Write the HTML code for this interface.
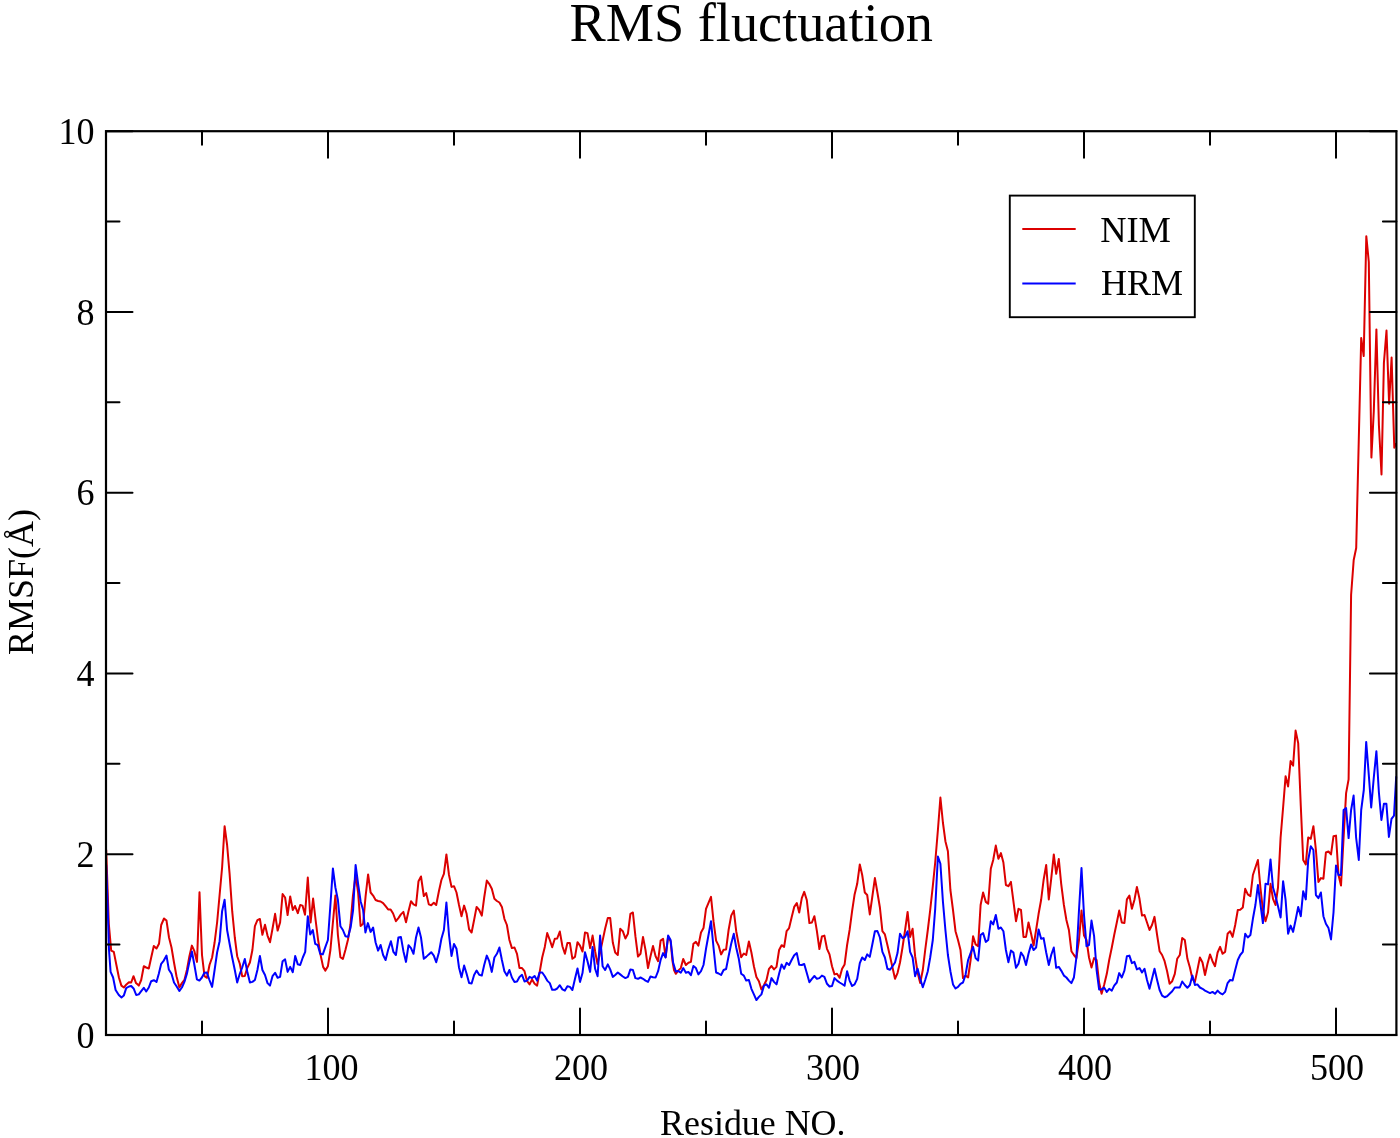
<!DOCTYPE html>
<html><head><meta charset="utf-8"><title>RMS fluctuation</title>
<style>
html,body{margin:0;padding:0;background:#fff;}
svg{display:block;}
text{font-family:"Liberation Serif","DejaVu Serif",serif;fill:#000;}
</style></head><body>
<svg width="1400" height="1138" viewBox="0 0 1400 1138">
<rect width="1400" height="1138" fill="#fff"/>
<text x="751.2" y="41.3" font-size="54.3" text-anchor="middle">RMS fluctuation</text>
<polyline points="106.2,850.0 108.8,923.8 111.2,950.6 113.8,951.9 116.4,965.0 118.9,977.5 121.4,985.6 123.9,987.5 126.4,984.4 128.9,982.2 131.2,982.5 133.5,976.2 136.0,983.1 138.8,985.6 141.2,980.0 143.8,966.2 146.2,967.5 148.8,968.5 151.2,957.5 153.8,946.0 156.5,948.5 159.0,943.8 161.2,925.0 164.0,918.5 166.5,920.6 169.0,937.5 171.5,947.5 174.0,962.5 176.5,976.2 179.4,987.5 181.9,983.1 184.4,980.0 186.9,970.0 189.4,956.2 191.9,945.6 194.4,951.2 197.0,961.9 199.5,892.2 202.0,955.0 204.5,976.2 207.0,977.8 209.5,965.0 212.1,957.5 214.6,942.5 217.1,922.5 219.6,895.0 222.1,867.5 224.6,826.2 227.1,845.0 229.6,873.8 232.2,911.2 234.8,937.5 237.2,956.2 239.8,963.8 242.2,976.2 244.8,976.0 247.2,968.1 249.9,962.5 252.4,950.0 254.9,926.2 257.4,920.2 259.9,919.0 262.4,934.8 265.0,924.8 267.5,935.6 270.0,942.2 272.5,928.8 275.1,913.8 277.6,930.6 280.1,922.5 282.6,894.0 285.1,897.5 287.6,915.0 290.2,896.5 292.8,910.0 295.0,906.0 297.8,913.1 300.2,905.0 302.5,905.6 305.0,914.8 307.8,877.5 310.6,922.5 313.1,898.5 315.6,920.0 318.1,940.0 320.6,955.0 323.1,966.9 325.4,970.6 327.9,966.2 330.4,950.0 332.9,922.5 335.4,895.6 337.9,935.0 340.4,957.2 342.9,959.0 345.4,950.0 347.9,940.0 350.4,925.0 352.9,896.2 355.6,875.0 358.1,892.5 360.6,926.0 363.1,923.8 365.6,896.2 368.1,874.4 370.6,892.5 373.1,895.6 375.6,900.0 378.1,901.0 380.6,901.5 383.1,903.1 385.6,906.2 388.1,909.4 390.6,909.4 393.1,913.5 395.9,921.2 398.4,918.1 400.9,914.4 403.4,911.9 406.0,922.2 408.5,911.2 411.0,901.2 413.5,904.4 416.0,905.6 418.5,881.2 421.0,876.5 423.8,896.0 426.2,893.1 428.8,904.4 431.2,905.2 433.8,902.8 436.2,905.0 438.9,891.2 441.4,880.0 443.9,873.8 446.4,854.4 449.0,875.0 451.5,886.9 454.0,886.2 456.5,892.5 459.0,905.0 461.5,916.2 464.1,905.6 466.6,913.8 469.1,929.4 471.6,932.5 474.1,920.0 476.6,906.9 479.2,910.0 481.8,915.6 484.2,897.5 486.8,880.6 489.2,883.8 491.8,888.8 494.4,898.8 496.9,901.0 499.4,902.5 501.9,906.9 504.4,918.8 506.9,925.0 509.4,940.0 511.9,948.1 514.5,947.5 517.0,953.8 519.5,968.1 522.0,968.1 524.5,971.2 527.1,981.2 529.6,984.4 532.1,979.4 534.6,983.8 537.1,985.6 539.6,972.5 542.2,957.5 544.8,946.9 547.2,933.1 549.8,940.0 552.2,947.2 554.8,938.8 557.2,938.5 559.8,931.5 562.4,946.2 564.9,953.8 567.4,943.1 569.9,943.1 572.4,958.8 575.0,956.9 577.5,942.2 580.0,945.6 582.5,951.5 585.0,932.5 587.5,933.1 590.1,948.1 592.6,935.6 595.1,951.2 597.5,964.0 600.1,952.5 602.6,940.6 605.1,928.8 607.8,918.1 610.2,918.1 612.8,942.5 615.2,952.5 617.8,955.0 620.2,928.8 622.8,931.2 625.4,938.5 627.9,933.8 630.4,913.8 632.9,912.5 635.4,936.2 638.0,956.5 640.5,953.8 643.0,936.9 645.5,950.0 648.0,968.1 650.5,956.2 653.0,946.0 655.6,956.2 658.1,961.2 660.6,940.6 663.1,938.8 665.6,957.2 668.1,936.9 670.6,941.2 672.5,961.2 674.0,970.0 675.8,973.8 678.2,970.6 680.8,968.1 683.2,959.0 685.9,965.0 688.4,962.8 690.9,961.9 693.4,943.8 695.9,941.9 698.4,945.6 701.0,932.5 703.5,928.1 706.0,908.8 708.5,902.8 711.0,896.9 713.5,921.2 716.1,940.6 718.6,945.6 721.1,954.4 723.6,949.8 726.1,949.4 728.6,930.0 731.2,915.6 733.8,910.6 736.2,931.2 738.8,945.0 741.2,957.2 743.8,953.5 746.2,955.0 748.9,941.5 751.4,952.5 753.9,966.2 756.4,976.9 758.9,981.2 761.4,989.4 764.0,985.0 766.5,980.0 769.0,968.8 771.5,966.0 774.0,969.4 776.5,966.9 779.1,950.0 781.6,945.2 784.1,946.9 786.6,931.2 789.1,928.1 791.6,917.5 794.2,906.9 796.8,903.1 799.2,912.5 801.8,898.1 804.2,891.9 806.8,900.0 809.4,923.1 811.9,922.5 814.4,916.2 816.9,931.2 819.4,949.0 821.9,936.5 824.4,935.6 827.0,948.8 829.5,954.4 832.0,966.2 834.5,974.4 837.0,973.8 839.6,977.8 842.1,968.8 844.6,964.4 847.1,945.0 849.6,930.0 852.1,911.2 854.6,894.4 857.2,883.8 859.8,864.4 862.2,875.0 864.8,892.5 867.2,895.0 869.8,914.4 872.2,897.5 874.9,878.1 877.4,892.5 879.9,907.5 882.4,931.2 884.9,934.4 887.4,945.0 890.0,956.2 892.5,967.5 895.0,978.8 897.5,973.1 900.0,962.5 902.5,947.5 905.1,930.0 907.6,911.9 910.1,936.9 912.6,928.8 915.1,956.2 917.6,972.5 920.2,983.1 922.8,970.0 925.2,950.0 927.8,930.0 930.2,910.0 932.8,886.2 935.2,862.5 937.9,830.0 940.4,797.5 942.9,822.5 945.4,841.2 947.9,851.2 950.4,890.0 953.0,910.0 955.5,931.2 958.0,940.0 960.5,950.0 963.0,978.1 965.5,975.6 968.1,977.5 970.6,960.0 973.1,936.2 975.6,944.4 978.1,946.2 980.6,905.0 983.1,892.5 985.8,901.9 988.2,903.8 990.8,868.8 993.2,860.0 995.8,845.6 998.4,858.8 1000.9,853.1 1003.4,862.5 1005.9,885.0 1008.4,886.2 1010.9,881.9 1013.4,901.2 1016.0,921.2 1018.5,908.8 1021.0,910.0 1023.5,936.9 1026.0,936.9 1028.5,922.5 1031.1,933.8 1033.6,945.6 1036.1,930.0 1038.6,913.8 1041.1,900.0 1043.6,880.0 1046.2,865.0 1048.8,899.4 1051.2,878.8 1053.8,854.4 1056.2,873.8 1058.8,859.0 1061.2,883.8 1063.9,905.0 1066.4,920.0 1068.9,930.0 1071.4,951.2 1073.9,955.0 1076.4,958.1 1079.0,940.0 1081.5,910.6 1084.0,935.6 1086.5,940.0 1089.0,957.5 1091.5,967.5 1094.1,958.1 1096.6,960.0 1099.1,982.5 1101.6,993.8 1104.1,985.0 1106.8,973.8 1109.2,960.0 1111.8,947.5 1114.2,935.0 1116.8,922.5 1119.2,910.6 1121.8,922.5 1124.4,923.1 1126.9,899.4 1129.4,895.6 1131.9,908.8 1134.4,900.0 1136.9,886.9 1139.5,898.8 1142.0,915.6 1144.5,915.0 1147.0,922.5 1149.5,930.0 1152.0,925.0 1154.5,916.9 1157.1,935.0 1159.6,951.2 1162.1,955.0 1164.6,961.2 1167.1,971.2 1169.6,983.8 1172.2,981.2 1174.8,973.8 1177.2,958.8 1179.8,955.0 1182.2,938.1 1184.8,940.0 1187.4,958.8 1189.9,967.5 1192.4,978.8 1194.9,981.9 1197.4,970.0 1199.9,957.5 1202.5,962.5 1205.0,975.0 1207.5,963.8 1210.0,954.4 1212.5,961.2 1215.0,966.2 1217.6,952.5 1220.1,946.9 1222.6,953.8 1225.1,951.9 1227.6,933.8 1230.1,931.2 1232.6,936.9 1235.2,925.0 1237.8,910.0 1240.2,909.8 1242.8,907.5 1245.2,888.8 1247.8,894.4 1250.4,896.2 1252.9,875.0 1255.4,867.5 1257.9,860.0 1260.4,887.5 1262.9,910.0 1265.5,921.2 1268.0,912.5 1270.5,883.8 1273.0,898.8 1275.5,905.0 1278.0,887.5 1280.6,837.5 1283.1,807.5 1285.6,776.2 1288.1,786.5 1290.6,761.0 1293.1,765.6 1295.6,730.6 1298.2,743.1 1300.8,806.2 1303.2,860.0 1305.8,864.4 1308.2,837.5 1310.8,838.8 1313.4,826.2 1315.9,850.0 1318.4,881.9 1320.9,878.1 1323.4,878.8 1325.9,852.5 1328.5,851.5 1331.0,854.4 1333.5,836.2 1336.0,835.6 1338.5,875.0 1341.0,885.6 1343.6,837.5 1346.1,793.1 1348.6,779.4 1351.1,595.0 1353.7,560.0 1356.2,548.0 1358.7,443.0 1361.2,338.0 1363.7,356.0 1366.3,236.2 1368.8,262.0 1371.4,457.6 1373.8,411.0 1376.4,329.4 1378.9,425.0 1381.5,474.5 1383.9,363.0 1386.5,330.6 1389.1,403.7 1391.6,357.5 1394.3,447.7 1395.8,444.0" fill="none" stroke="#dc0000" stroke-width="2" stroke-linejoin="round" stroke-linecap="round"/>
<polyline points="106.2,865.0 108.1,920.0 109.0,950.0 110.6,971.9 113.1,977.5 115.6,990.0 118.8,995.0 121.5,997.5 123.8,995.6 126.2,988.1 129.0,986.5 131.2,986.0 133.8,988.8 136.2,995.0 138.8,994.4 141.2,991.2 143.8,987.8 146.2,991.5 148.8,987.5 151.2,981.2 153.8,980.2 156.5,981.9 158.8,973.8 161.2,963.8 163.8,960.6 166.5,955.6 168.8,969.4 171.5,973.8 174.0,982.5 176.5,986.2 179.4,991.0 181.9,987.5 184.4,981.9 186.9,973.8 189.4,961.9 191.9,951.5 194.4,965.0 196.9,979.4 199.4,980.6 201.9,977.5 204.4,972.8 206.9,972.5 209.4,980.0 212.1,986.9 214.6,970.0 217.1,952.5 219.6,941.2 222.1,911.2 224.6,899.8 227.1,930.0 229.6,943.8 232.2,957.5 234.8,970.0 237.2,982.5 239.8,973.8 242.2,967.5 244.8,959.0 247.2,971.2 249.9,982.5 252.4,981.9 254.9,980.0 257.4,970.0 259.9,956.0 262.4,970.0 265.0,975.0 267.5,983.1 270.0,985.6 272.5,976.2 275.1,972.8 277.6,977.8 280.1,976.9 282.6,961.2 285.1,959.4 287.6,971.9 290.2,966.9 292.8,972.2 295.2,956.0 297.8,964.4 300.2,965.0 302.8,957.5 305.2,951.9 307.8,916.2 310.2,934.4 312.8,930.0 315.2,943.8 317.8,945.2 320.2,953.8 322.8,954.4 325.4,946.9 327.9,940.0 330.4,905.0 332.9,868.5 335.4,887.5 337.9,900.0 340.4,926.2 342.9,930.0 345.4,936.2 348.1,936.9 350.6,927.5 353.1,910.0 355.6,865.0 358.1,883.8 360.6,901.2 363.1,910.0 365.4,932.5 367.9,923.1 370.6,931.9 373.1,927.5 375.6,942.5 378.1,950.6 380.6,945.0 383.1,955.0 385.6,960.0 388.1,950.0 390.9,941.2 393.4,951.9 395.9,955.0 398.4,937.5 400.9,936.9 403.4,951.2 406.0,961.9 408.5,945.2 411.0,948.1 413.5,953.8 416.0,937.5 418.5,927.5 421.0,937.5 423.8,958.8 426.2,956.9 428.8,954.4 431.2,952.2 433.8,955.6 436.2,962.2 438.9,952.5 441.4,938.8 443.9,930.0 446.4,902.5 449.0,935.0 451.5,956.0 454.0,944.0 456.5,948.8 459.0,967.5 461.5,977.2 464.1,965.6 466.6,973.8 469.1,983.1 471.6,983.5 474.1,975.0 476.6,970.6 479.2,974.8 481.8,975.6 484.2,965.0 486.8,955.6 489.2,961.2 491.8,971.9 494.4,957.5 496.9,953.8 499.4,947.5 501.9,960.0 504.4,971.2 506.9,975.6 509.4,970.0 511.9,977.5 514.5,981.9 517.0,981.5 519.5,976.9 522.0,974.8 524.5,981.5 527.1,980.6 529.6,976.9 532.1,978.1 534.6,976.0 537.1,980.6 539.6,972.5 542.2,972.5 544.8,976.2 547.2,980.6 549.8,983.1 552.2,989.8 554.8,989.8 557.2,988.5 559.8,985.2 562.4,989.4 564.9,990.6 567.4,986.2 569.9,986.9 572.4,990.0 575.0,978.8 577.5,968.5 580.0,981.9 582.5,973.1 585.0,952.2 587.5,961.2 590.1,971.9 592.6,946.9 595.1,968.8 597.6,976.2 600.1,935.6 602.6,966.2 605.1,970.0 607.8,964.4 610.2,969.4 612.8,976.9 615.2,975.0 617.8,972.5 620.2,974.4 622.8,976.5 625.4,978.1 627.9,976.9 630.4,969.4 632.9,970.0 635.4,978.1 638.0,978.8 640.5,977.5 643.0,978.8 645.5,980.6 648.0,981.9 650.5,976.5 653.0,977.2 655.6,977.5 658.1,971.2 660.6,960.0 663.1,953.1 665.6,957.5 668.1,935.6 670.6,940.0 673.1,962.5 675.8,971.5 678.2,971.0 680.8,972.8 683.2,968.1 685.9,972.8 688.4,971.9 690.9,975.2 693.4,966.0 695.9,968.1 698.4,974.4 701.0,971.2 703.5,965.0 706.0,948.8 708.5,935.0 711.0,921.2 713.5,947.5 716.1,972.5 718.6,973.5 721.1,975.0 723.6,970.0 726.1,969.0 728.6,956.2 731.2,943.8 733.8,933.8 736.2,947.5 738.8,958.8 741.2,973.8 743.8,975.6 746.2,980.6 748.9,980.0 751.4,988.8 753.9,994.4 756.4,1000.0 758.9,996.9 761.4,994.4 764.0,985.6 766.5,984.4 769.0,987.8 771.5,978.1 774.0,981.9 776.5,984.4 779.1,973.8 781.6,964.4 784.1,968.8 786.6,962.8 789.1,965.0 791.6,960.0 794.2,955.2 796.8,953.1 799.2,964.8 801.8,965.0 804.2,964.0 806.8,973.1 809.4,982.2 811.9,978.8 814.4,976.0 816.9,978.8 819.4,978.1 821.9,975.6 824.4,976.9 827.0,983.8 829.5,986.5 832.0,986.0 834.5,978.1 837.0,980.6 839.6,982.5 842.1,984.0 844.6,985.6 847.1,971.2 849.6,980.6 852.1,986.0 854.6,984.4 857.2,978.8 859.8,963.1 862.2,957.5 864.8,960.0 867.2,954.4 869.8,956.9 872.2,945.0 874.9,931.2 877.4,931.0 879.9,937.5 882.4,951.9 884.9,957.5 887.4,968.8 890.0,969.8 892.5,966.2 895.0,962.5 897.5,953.1 900.0,933.8 902.5,938.1 905.1,936.9 907.6,931.2 910.1,951.9 912.6,957.5 915.1,976.2 917.6,968.8 920.2,978.8 922.8,987.2 925.2,980.0 927.8,971.2 930.2,957.5 932.8,940.0 935.2,908.8 937.9,856.5 940.4,863.8 942.9,901.2 945.4,930.0 947.9,955.0 950.4,971.2 953.0,984.4 955.5,988.5 958.0,986.9 960.5,983.8 963.0,982.5 965.5,975.0 968.1,960.0 970.6,953.1 973.1,946.9 975.6,958.1 978.1,960.6 980.6,935.0 983.1,933.1 985.8,941.9 988.2,940.0 990.8,921.2 993.2,924.4 995.8,915.0 998.4,928.8 1000.9,927.5 1003.4,931.2 1005.9,950.0 1008.4,962.2 1010.9,950.6 1013.4,952.5 1016.0,967.8 1018.5,963.8 1021.0,952.5 1023.5,956.2 1026.0,965.0 1028.5,953.8 1031.1,944.4 1033.6,950.0 1036.1,947.5 1038.6,929.4 1041.1,938.8 1043.6,938.1 1046.2,952.5 1048.8,965.0 1051.2,955.0 1053.8,947.5 1056.2,967.8 1058.8,966.9 1061.2,970.6 1063.9,975.6 1066.4,977.5 1068.9,980.6 1071.4,983.1 1073.9,977.5 1076.4,957.5 1079.0,910.0 1081.5,868.1 1084.0,915.0 1086.5,946.2 1089.0,945.0 1091.5,920.6 1094.1,936.2 1096.6,970.0 1099.1,989.4 1101.6,989.4 1104.1,987.5 1106.8,991.9 1109.2,988.8 1111.8,990.6 1114.2,985.6 1116.8,982.5 1119.2,973.1 1121.8,977.5 1124.4,970.6 1126.9,956.2 1129.4,955.6 1131.9,963.1 1134.4,961.9 1136.9,969.4 1139.5,968.1 1142.0,972.5 1144.5,968.8 1147.0,980.0 1149.5,988.8 1152.0,978.8 1154.5,968.8 1157.1,980.0 1159.6,990.0 1162.1,995.6 1164.6,997.2 1167.1,996.2 1169.6,993.8 1172.2,991.2 1174.8,987.5 1177.2,987.5 1179.8,987.5 1182.2,981.5 1184.8,985.0 1187.4,987.8 1189.9,985.0 1192.4,975.6 1194.9,985.0 1197.4,984.4 1199.9,987.5 1202.5,988.8 1205.0,990.6 1207.5,991.9 1210.0,993.1 1212.5,991.9 1215.0,993.8 1217.6,990.6 1220.1,993.1 1222.6,994.4 1225.1,991.9 1227.6,983.1 1230.1,980.0 1232.6,980.6 1235.2,970.0 1237.8,960.0 1240.2,955.0 1242.8,951.9 1245.2,933.8 1247.8,937.5 1250.4,935.0 1252.9,918.8 1255.4,905.0 1257.9,885.0 1260.4,903.8 1262.9,923.1 1265.5,883.8 1268.0,884.4 1270.5,859.4 1273.0,887.5 1275.5,896.2 1278.0,906.2 1280.6,917.5 1283.1,881.2 1285.6,900.0 1288.1,933.8 1290.6,925.6 1293.1,931.9 1295.6,920.0 1298.2,906.9 1300.8,916.2 1303.2,891.2 1305.8,899.4 1308.2,860.0 1310.8,846.2 1313.4,850.0 1315.9,895.0 1318.4,898.1 1320.9,892.5 1323.4,916.2 1325.9,923.8 1328.5,928.1 1331.0,939.4 1333.5,912.5 1336.0,865.6 1338.5,875.0 1341.0,875.0 1343.6,810.0 1346.1,808.1 1348.6,838.1 1351.1,810.0 1353.6,795.6 1356.1,837.5 1358.8,860.0 1361.2,810.0 1363.8,790.0 1366.2,741.9 1368.8,775.0 1371.2,807.5 1373.8,777.5 1376.4,751.2 1378.9,792.5 1381.4,820.0 1383.9,803.8 1386.4,803.8 1388.9,836.9 1391.5,818.8 1394.0,815.6 1396.2,776.9" fill="none" stroke="#0000ff" stroke-width="2" stroke-linejoin="round" stroke-linecap="round"/>
<rect x="106" y="131.2" width="1290.4" height="903.8" fill="none" stroke="#000" stroke-width="2.2"/>
<path d="M202.00 1035.0v-13.5M202.00 131.2v13.5M328.00 1035.0v-26.5M328.00 131.2v26.5M454.00 1035.0v-13.5M454.00 131.2v13.5M580.00 1035.0v-26.5M580.00 131.2v26.5M706.00 1035.0v-13.5M706.00 131.2v13.5M832.00 1035.0v-26.5M832.00 131.2v26.5M958.00 1035.0v-13.5M958.00 131.2v13.5M1084.00 1035.0v-26.5M1084.00 131.2v26.5M1210.00 1035.0v-13.5M1210.00 131.2v13.5M1336.00 1035.0v-26.5M1336.00 131.2v26.5M106 1035.00h26.5M1396.4 1035.00h-26.5M106 944.62h13.5M1396.4 944.62h-13.5M106 854.24h26.5M1396.4 854.24h-26.5M106 763.86h13.5M1396.4 763.86h-13.5M106 673.48h26.5M1396.4 673.48h-26.5M106 583.10h13.5M1396.4 583.10h-13.5M106 492.72h26.5M1396.4 492.72h-26.5M106 402.34h13.5M1396.4 402.34h-13.5M106 311.96h26.5M1396.4 311.96h-26.5M106 221.58h13.5M1396.4 221.58h-13.5M106 131.20h26.5M1396.4 131.20h-26.5" stroke="#000" stroke-width="2" stroke-linecap="round" fill="none"/>
<text transform="translate(331.5,1079.9) scale(0.97,1)" font-size="37.2" text-anchor="middle">100</text>
<text transform="translate(581.0,1079.9) scale(0.97,1)" font-size="37.2" text-anchor="middle">200</text>
<text transform="translate(833.0,1079.9) scale(0.97,1)" font-size="37.2" text-anchor="middle">300</text>
<text transform="translate(1085.0,1079.9) scale(0.97,1)" font-size="37.2" text-anchor="middle">400</text>
<text transform="translate(1337.0,1079.9) scale(0.97,1)" font-size="37.2" text-anchor="middle">500</text>
<text transform="translate(94.6,1047.5) scale(0.97,1)" font-size="37.2" text-anchor="end">0</text>
<text transform="translate(94.6,866.7) scale(0.97,1)" font-size="37.2" text-anchor="end">2</text>
<text transform="translate(94.6,686.0) scale(0.97,1)" font-size="37.2" text-anchor="end">4</text>
<text transform="translate(94.6,505.2) scale(0.97,1)" font-size="37.2" text-anchor="end">6</text>
<text transform="translate(94.6,324.5) scale(0.97,1)" font-size="37.2" text-anchor="end">8</text>
<text transform="translate(94.6,143.7) scale(0.97,1)" font-size="37.2" text-anchor="end">10</text>
<text x="752.8" y="1134.5" font-size="35.9" text-anchor="middle">Residue NO.</text>
<text transform="translate(33,582) rotate(-90)" font-size="36" text-anchor="middle">RMSF(Å)</text>
<rect x="1009.8" y="195.6" width="185" height="121.6" fill="#fff" stroke="#000" stroke-width="1.9"/>
<path d="M1022.3 229.1H1075.7" stroke="#dc0000" stroke-width="2"/>
<path d="M1022.3 283.4H1075.7" stroke="#0000ff" stroke-width="2"/>
<text x="1100.2" y="241.9" font-size="36.4">NIM</text>
<text x="1101" y="294.6" font-size="36">HRM</text>
</svg>
</body></html>
